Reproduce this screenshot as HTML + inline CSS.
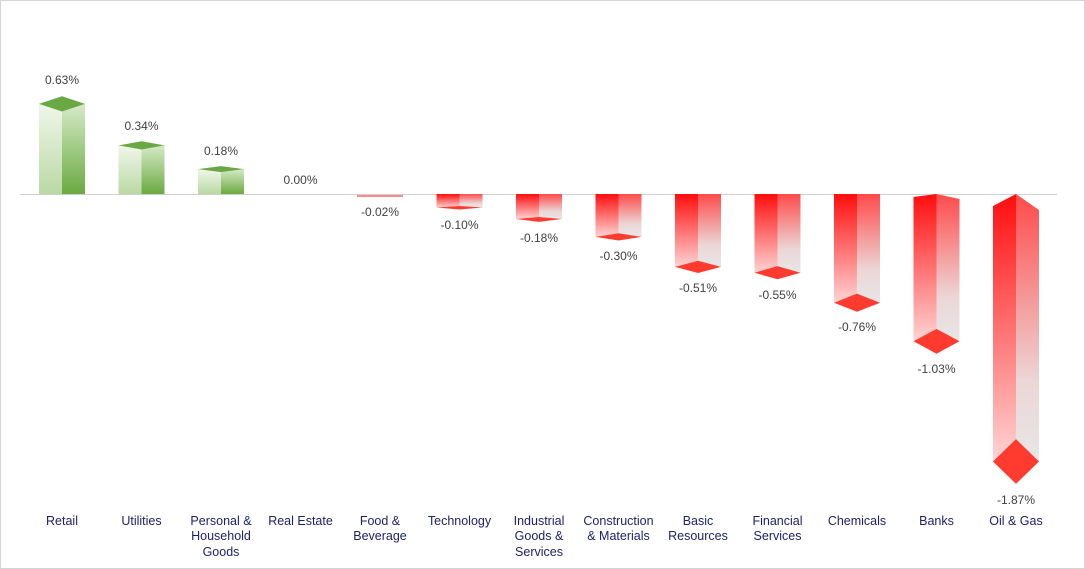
<!DOCTYPE html>
<html><head><meta charset="utf-8"><style>
html,body{margin:0;padding:0;background:#fff}
svg{display:block}
text{font-family:"Liberation Sans",Arial,sans-serif}
.v{font-size:12px;fill:#404040;text-anchor:middle}
.c{font-size:12.5px;fill:#1a1f6b;text-anchor:middle}
</style></head><body>
<svg width="1085" height="569" viewBox="0 0 1085 569" xmlns="http://www.w3.org/2000/svg">
<defs>
<linearGradient id="gl" x1="0" y1="0" x2="0" y2="1"><stop offset="0" stop-color="#f0f7ea"/><stop offset="1" stop-color="#b9d9a3"/></linearGradient>
<linearGradient id="gr" x1="0" y1="0" x2="0" y2="1"><stop offset="0" stop-color="#d6eac8"/><stop offset="1" stop-color="#6aaa40"/></linearGradient>
<linearGradient id="rl" x1="0" y1="0" x2="0" y2="1"><stop offset="0" stop-color="#ff0d0d"/><stop offset="1" stop-color="#ffd4d4"/></linearGradient>
<linearGradient id="rr" x1="0" y1="0" x2="0" y2="1"><stop offset="0" stop-color="#ff4a4a"/><stop offset="0.7" stop-color="#ecd6d6"/><stop offset="1" stop-color="#e8e6e6"/></linearGradient>
</defs>
<rect x="0.5" y="0.5" width="1084" height="568" fill="#fff" stroke="#d4d4d4"/>
<line x1="20" y1="194.5" x2="1057" y2="194.5" stroke="#d0d0d0" stroke-width="1"/>

<!-- Retail -->
<polygon points="39,103.9 62,111.5 62,194 39,194" fill="url(#gl)"/>
<polygon points="62,111.5 85,103.9 85,194 62,194" fill="url(#gr)"/>
<polygon points="39,103.9 62,96.3 85,103.9 62,111.5" fill="#6aa843"/>
<!-- Utilities -->
<polygon points="118.5,145.4 141.5,149.5 141.5,194 118.5,194" fill="url(#gl)"/>
<polygon points="141.5,149.5 164.5,145.4 164.5,194 141.5,194" fill="url(#gr)"/>
<polygon points="118.5,145.4 141.5,141.3 164.5,145.4 141.5,149.5" fill="#6aa843"/>
<!-- Personal -->
<polygon points="198,169.1 221,172.1 221,194 198,194" fill="url(#gl)"/>
<polygon points="221,172.1 244,169.1 244,194 221,194" fill="url(#gr)"/>
<polygon points="198,169.1 221,166.1 244,169.1 221,172.1" fill="#6aa843"/>

<!-- Food -->
<polygon points="357,195 403,195 403,197 357,197" fill="#ff8a8a"/>
<!-- Technology -->
<polygon points="436.5,194 459.5,194 459.5,206.5 436.5,207.5" fill="url(#rl)"/>
<polygon points="459.5,194 482.5,194 482.5,207.5 459.5,206.5" fill="url(#rr)"/>
<polygon points="436.5,207.5 459.5,206 482.5,207.5 459.5,209.5" fill="#ff3b2f"/>
<!-- Industrial -->
<polygon points="516,194 539,194 539,217 516,219" fill="url(#rl)"/>
<polygon points="539,194 562,194 562,219 539,217" fill="url(#rr)"/>
<polygon points="516,219 539,217 562,219 539,221.9" fill="#ff3b2f"/>
<!-- Construction -->
<polygon points="595.5,194 618.5,194 618.5,233.3 595.5,236.9" fill="url(#rl)"/>
<polygon points="618.5,194 641.5,194 641.5,236.9 618.5,233.3" fill="url(#rr)"/>
<polygon points="595.5,236.9 618.5,233.3 641.5,236.9 618.5,240.5" fill="#ff3b2f"/>
<!-- Basic -->
<polygon points="675,194 698,194 698,260.8 675,266.9" fill="url(#rl)"/>
<polygon points="698,194 721,194 721,266.9 698,260.8" fill="url(#rr)"/>
<polygon points="675,266.9 698,260.8 721,266.9 698,273" fill="#ff3b2f"/>
<!-- Financial -->
<polygon points="754.5,194 777.5,194 777.5,266.1 754.5,272.7" fill="url(#rl)"/>
<polygon points="777.5,194 800.5,194 800.5,272.7 777.5,266.1" fill="url(#rr)"/>
<polygon points="754.5,272.7 777.5,266.1 800.5,272.7 777.5,279.3" fill="#ff3b2f"/>
<!-- Chemicals -->
<polygon points="834,194 857,194 857,293.6 834,302.7" fill="url(#rl)"/>
<polygon points="857,194 880,194 880,302.7 857,293.6" fill="url(#rr)"/>
<polygon points="834,302.7 857,293.6 880,302.7 857,311.8" fill="#ff3b2f"/>
<!-- Banks -->
<polygon points="913.5,197 936.5,194 936.5,328.9 913.5,341.3" fill="url(#rl)"/>
<polygon points="936.5,194 959.5,199 959.5,341.3 936.5,328.9" fill="url(#rr)"/>
<polygon points="913.5,341.3 936.5,328.9 959.5,341.3 936.5,353.7" fill="#ff3b2f"/>
<!-- Oil -->
<polygon points="993,206 1016,194 1016,439.1 993,461.5" fill="url(#rl)"/>
<polygon points="1016,194 1039,210 1039,461.5 1016,439.1" fill="url(#rr)"/>
<polygon points="993,461.5 1016,439.1 1039,461.5 1016,483.9" fill="#ff3b2f"/>

<text class="v" x="62" y="84">0.63%</text>
<text class="v" x="141.5" y="130">0.34%</text>
<text class="v" x="221" y="155">0.18%</text>
<text class="v" x="300.5" y="184">0.00%</text>
<text class="v" x="380" y="216">-0.02%</text>
<text class="v" x="459.5" y="229">-0.10%</text>
<text class="v" x="539" y="242">-0.18%</text>
<text class="v" x="618.5" y="260">-0.30%</text>
<text class="v" x="698" y="292">-0.51%</text>
<text class="v" x="777.5" y="299">-0.55%</text>
<text class="v" x="857" y="331">-0.76%</text>
<text class="v" x="936.5" y="373">-1.03%</text>
<text class="v" x="1016" y="504">-1.87%</text>

<text class="c" x="62" y="525">Retail</text>
<text class="c" x="141.5" y="525">Utilities</text>
<text class="c" x="221" y="525">Personal &amp;</text>
<text class="c" x="221" y="540">Household</text>
<text class="c" x="221" y="556">Goods</text>
<text class="c" x="300.5" y="525">Real Estate</text>
<text class="c" x="380" y="525">Food &amp;</text>
<text class="c" x="380" y="540">Beverage</text>
<text class="c" x="459.5" y="525">Technology</text>
<text class="c" x="539" y="525">Industrial</text>
<text class="c" x="539" y="540">Goods &amp;</text>
<text class="c" x="539" y="556">Services</text>
<text class="c" x="618.5" y="525">Construction</text>
<text class="c" x="618.5" y="540">&amp; Materials</text>
<text class="c" x="698" y="525">Basic</text>
<text class="c" x="698" y="540">Resources</text>
<text class="c" x="777.5" y="525">Financial</text>
<text class="c" x="777.5" y="540">Services</text>
<text class="c" x="857" y="525">Chemicals</text>
<text class="c" x="936.5" y="525">Banks</text>
<text class="c" x="1016" y="525">Oil &amp; Gas</text>
</svg>
</body></html>
